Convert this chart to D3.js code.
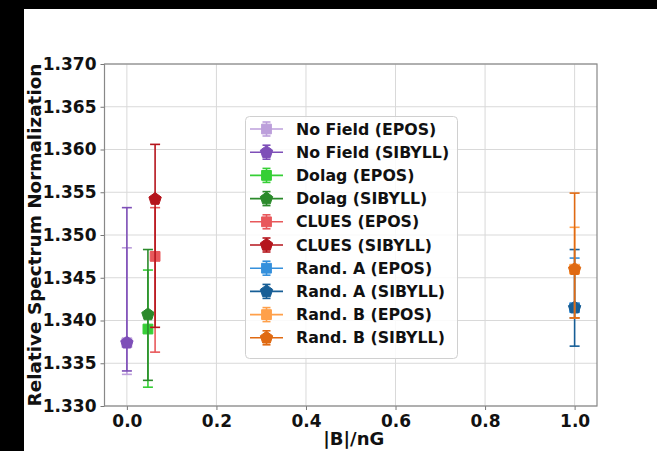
<!DOCTYPE html>
<html><head><meta charset="utf-8">
<script src="https://cdn.jsdelivr.net/npm/d3@7"></script>
<style>body{margin:0;background:#fff}svg{display:block}</style>
</head><body>
<svg id="c" width="657" height="451"></svg>
<script>
// ---- data ----
const labels = ["No Field (EPOS)","No Field (SIBYLL)","Dolag (EPOS)","Dolag (SIBYLL)","CLUES (EPOS)","CLUES (SIBYLL)","Rand. A (EPOS)","Rand. A (SIBYLL)","Rand. B (EPOS)","Rand. B (SIBYLL)"];
const bField = [0, 0, 0.047, 0.047, 0.063, 0.063, 1.0, 1.0, 1.0, 1.0];
const norm   = [1.3374, 1.3374, 1.3390, 1.3407, 1.3475, 1.3542, 1.3415, 1.3415, 1.3460, 1.3460];
const errLo  = [1.3337, 1.3341, 1.3322, 1.3330, 1.3363, 1.3392, 1.3403, 1.3370, 1.3403, 1.3403];
const errHi  = [1.3485, 1.3532, 1.3459, 1.3483, 1.3532, 1.3606, 1.3473, 1.3483, 1.3509, 1.3549];
const markers = ["square","pentagon","square","pentagon","square","pentagon","square","pentagon","square","pentagon"];
const xTicks = [0.0, 0.2, 0.4, 0.6, 0.8, 1.0];
const yTicks = [1.330, 1.335, 1.340, 1.345, 1.350, 1.355, 1.360, 1.365, 1.370];
// ---- styles ----
const colors = ["#bc9fdb","#7e4fb8","#36cf36","#2b8a2b","#e8585b","#b5141c","#3590dc","#175e96","#ffa04a","#e06a12"];

const svg = d3.select("#c");
svg.append("rect").attr("width",657).attr("height",451).attr("fill","#fff");

const L=104.5, R=597, T=64, B=406;
const x = d3.scaleLinear().domain([-0.05,1.05]).range([L,R]);
const y = d3.scaleLinear().domain([1.330,1.370]).range([B,T]);
const font = "'DejaVu Sans', sans-serif";

// grid
const g = svg.append("g");
g.selectAll(".gx").data(xTicks).enter().append("line")
  .attr("x1",d=>x(d)).attr("x2",d=>x(d)).attr("y1",T).attr("y2",B)
  .attr("stroke","#d9d9d9").attr("stroke-width",1);
g.selectAll(".gy").data(yTicks).enter().append("line")
  .attr("x1",L).attr("x2",R).attr("y1",d=>y(d)).attr("y2",d=>y(d))
  .attr("stroke","#d9d9d9").attr("stroke-width",1);

// axes
const ax = svg.append("g").attr("transform",`translate(0,${B})`)
  .call(d3.axisBottom(x).tickValues(xTicks).tickFormat(d3.format(".1f")).tickSize(4).tickPadding(5));
const ay = svg.append("g").attr("transform",`translate(${L},0)`)
  .call(d3.axisLeft(y).tickValues(yTicks).tickFormat(d3.format(".3f")).tickSize(4).tickPadding(4));
[ax,ay].forEach(a=>{
  a.select(".domain").remove();
  a.selectAll(".tick line").attr("stroke","#777");
  a.selectAll(".tick text").attr("font-family",font).attr("font-weight","bold").attr("font-size","17px").attr("fill","#111");
});
// frame
svg.append("rect").attr("x",L).attr("y",T).attr("width",R-L).attr("height",B-T)
  .attr("fill","none").attr("stroke","#888").attr("stroke-width",1.2);

// marker path
function pentagon(r){
  const pts=[];
  for(let k=0;k<5;k++){const a=-Math.PI/2+k*2*Math.PI/5;pts.push([r*Math.cos(a),r*Math.sin(a)]);}
  return "M"+pts.map(p=>p.join(",")).join("L")+"Z";
}
function markerPath(m){
  return m==="square" ? "M-4.9,-4.9L4.9,-4.9L4.9,4.9L-4.9,4.9Z" : pentagon(6.5);
}

// error bars + markers
const cap = 5;
labels.forEach((lab,i)=>{
  const cx = x(bField[i]);
  const gg = svg.append("g");
  gg.append("line").attr("x1",cx).attr("x2",cx).attr("y1",y(errLo[i])).attr("y2",y(errHi[i]))
    .attr("stroke",colors[i]).attr("stroke-width",1.6);
  [errLo[i],errHi[i]].forEach(v=>{
    gg.append("line").attr("x1",cx-cap).attr("x2",cx+cap).attr("y1",y(v)).attr("y2",y(v))
      .attr("stroke",colors[i]).attr("stroke-width",1.6);
  });
  gg.append("path").attr("d",markerPath(markers[i])).attr("transform",`translate(${cx},${y(norm[i])})`)
    .attr("fill",colors[i]).attr("stroke",colors[i]).attr("stroke-width",1);
});

// legend
const lg = svg.append("g");
lg.append("rect").attr("x",245.5).attr("y",116.5).attr("width",212).attr("height",242).attr("rx",4)
  .attr("fill","#fff").attr("fill-opacity",0.85).attr("stroke","#d0d0d0").attr("stroke-width",1);
labels.forEach((lab,i)=>{
  const cy = 129 + i*23.2, mx = 266.5;
  lg.append("line").attr("x1",250).attr("x2",283).attr("y1",cy).attr("y2",cy).attr("stroke",colors[i]).attr("stroke-width",1.6);
  lg.append("line").attr("x1",mx).attr("x2",mx).attr("y1",cy-7).attr("y2",cy+7).attr("stroke",colors[i]).attr("stroke-width",1.6);
  [cy-7,cy+7].forEach(v=>lg.append("line").attr("x1",mx-4).attr("x2",mx+4).attr("y1",v).attr("y2",v).attr("stroke",colors[i]).attr("stroke-width",1.6));
  lg.append("path").attr("d",markerPath(markers[i])).attr("transform",`translate(${mx},${cy})`).attr("fill",colors[i]).attr("stroke",colors[i]);
  lg.append("text").attr("x",296).attr("y",cy).attr("dy","0.36em").text(lab)
    .attr("font-family",font).attr("font-weight","bold").attr("font-size","15.8px").attr("fill","#111");
});

// axis labels
svg.append("text").attr("x",(L+R)/2+3).attr("y",445).attr("text-anchor","middle").text("|B|/nG")
  .attr("font-family",font).attr("font-weight","bold").attr("font-size","18px").attr("fill","#111");
svg.append("text").attr("transform",`translate(40.5,${(T+B)/2}) rotate(-90)`).attr("text-anchor","middle").text("Relative Spectrum Normalization")
  .attr("font-family",font).attr("font-weight","bold").attr("font-size","18.4px").attr("fill","#111");

// black borders of the photo
svg.append("rect").attr("x",0).attr("y",0).attr("width",657).attr("height",9).attr("fill","#000");
svg.append("rect").attr("x",0).attr("y",0).attr("width",24).attr("height",451).attr("fill","#000");
</script>
</body></html>
